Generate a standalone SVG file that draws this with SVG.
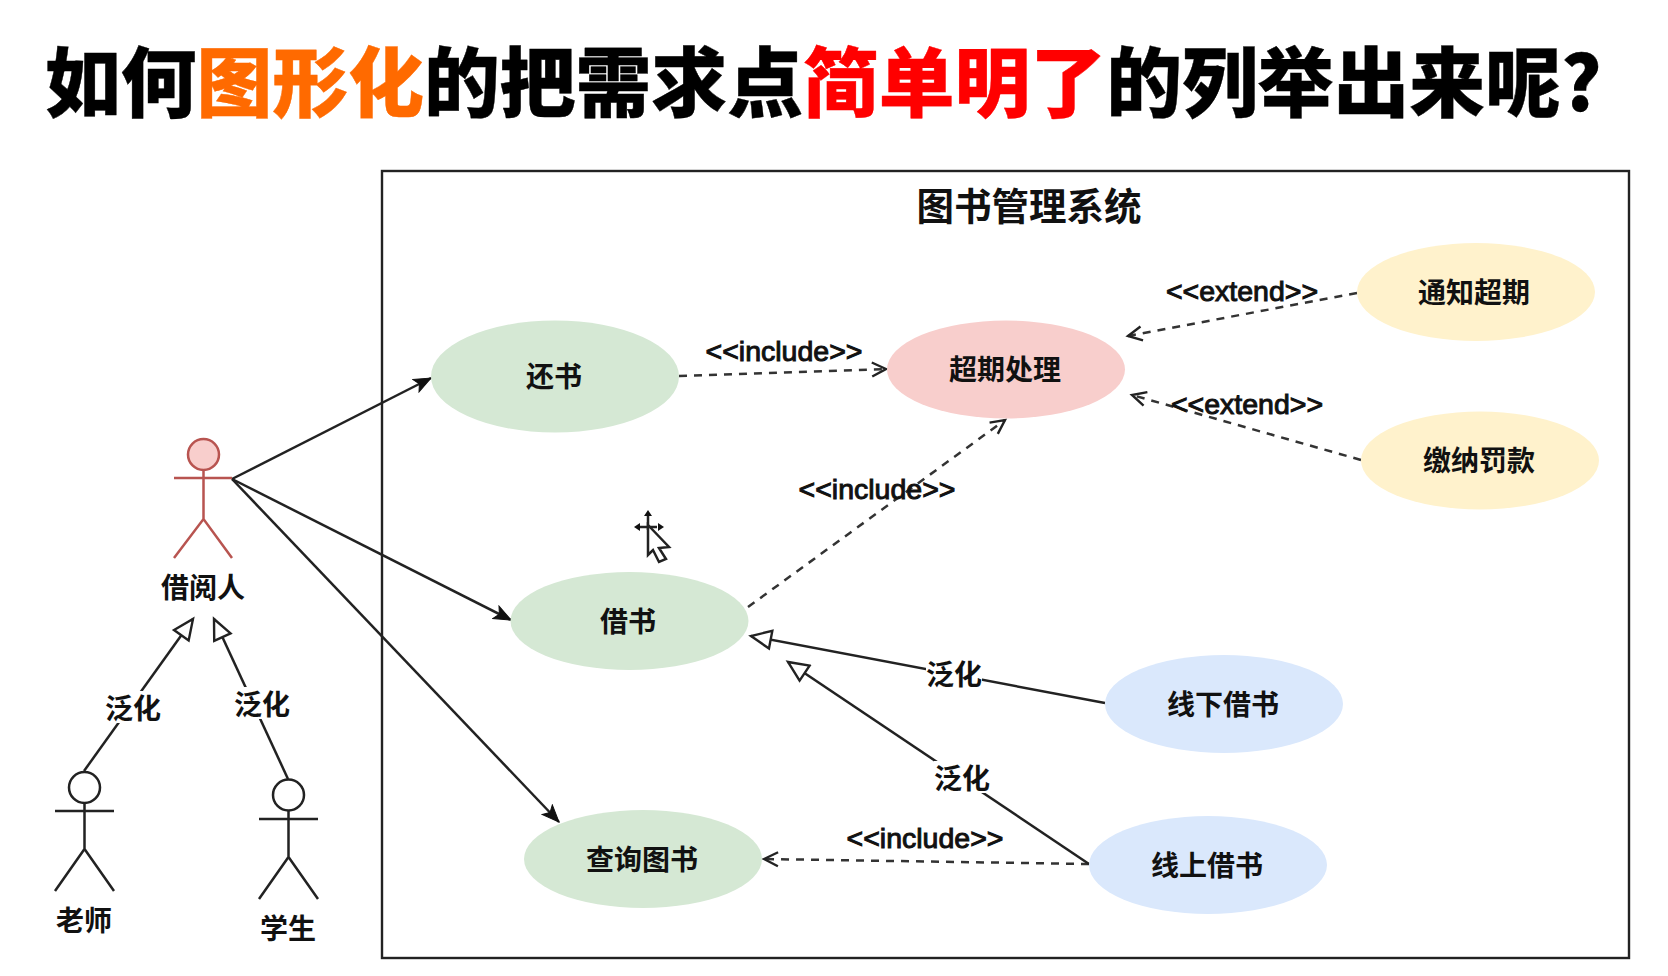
<svg xmlns="http://www.w3.org/2000/svg" width="1668" height="976" viewBox="0 0 1668 976">
<style>
text{font-family:"Noto Sans CJK SC","Liberation Sans",sans-serif;font-weight:700;fill:#111;text-anchor:middle;dominant-baseline:central}
.cn{font-size:28px}
.en{font-family:"Liberation Sans","Noto Sans CJK SC",sans-serif;font-weight:400;font-size:28.500px;stroke:#111;stroke-width:1}
.title{font-size:75.8px;font-weight:900;fill:#000;stroke:#000;stroke-width:.4;text-anchor:start;dominant-baseline:alphabetic}
.bg{fill:#fff;stroke:none}
.line{fill:none;stroke:#222;stroke-width:2.5}
.dash{fill:none;stroke:#333;stroke-width:2.5;stroke-dasharray:8 7}
.assoc{marker-end:url(#solid)}
.open{marker-end:url(#open)}
.gen{marker-end:url(#hollow)}
.actor{fill:#fff;stroke:#222;stroke-width:2.5}
.red{fill:#f8cecc;stroke:#b85450;stroke-width:2.5}
.limb{fill:none}
.green{fill:#d5e8d4}.pink{fill:#f8cecc}.yellow{fill:#fff2cc}.blue{fill:#dae8fc}
</style>
<defs>
<marker id="solid" markerUnits="userSpaceOnUse" markerWidth="20" markerHeight="16" refX="18" refY="8" orient="auto"><path d="M1 1 L18 8 L1 15 L5 8 Z" fill="#111" stroke="#111"/></marker>
<marker id="open" markerUnits="userSpaceOnUse" markerWidth="20" markerHeight="18" refX="17" refY="9" orient="auto"><path d="M3 2 L17 9 L3 16" fill="none" stroke="#222" stroke-width="2.4"/></marker>
<marker id="hollow" markerUnits="userSpaceOnUse" markerWidth="26" markerHeight="22" refX="23" refY="11" orient="auto"><path d="M3 2 L23 11 L3 20 Z" fill="#fff" stroke="#222" stroke-width="2.4"/></marker>
</defs>
<rect width="1668" height="976" fill="#fff"/>
<text class="title" x="45" y="111">如何<tspan fill="#ff6a00" stroke="#ff6a00">图形化</tspan>的把需求点<tspan fill="#ff0000" stroke="#ff0000">简单明了</tspan>的列举出来呢?</text>
<rect id="system" x="382" y="171" width="1247" height="787" fill="none" stroke="#222" stroke-width="2.4"/>
<text x="1029" y="203" style="font-size:37.5px">图书管理系统</text>
<g id="connectors">
<path class="line assoc" d="M232 479 L431 378"/>
<path class="line assoc" d="M232 479 L511 620"/>
<path class="line assoc" d="M232 479 L559 822"/>
<path class="dash open" d="M679 376 L886 369"/>
<path class="dash open" d="M748 607 L1005 420"/>
<path class="dash open" d="M1357 293 L1128 336"/>
<path class="dash open" d="M1361 460 L1132 395"/>
<path class="dash open" d="M1089 864 L764 859"/>
<path class="line gen" d="M1105 703 L751 636"/>
<path class="line gen" d="M1089 864 L788 662"/>
<path class="line gen" d="M84 771 L193 619"/>
<path class="line gen" d="M288 779 L214 619"/>
</g>
<g id="edge-labels">
<text class="en" x="784" y="351">&lt;&lt;include&gt;&gt;</text>
<text class="en" x="877" y="489">&lt;&lt;include&gt;&gt;</text>
<text class="en" x="925" y="838">&lt;&lt;include&gt;&gt;</text>
<text class="en" x="1242" y="291">&lt;&lt;extend&gt;&gt;</text>
<text class="en" x="1247" y="404">&lt;&lt;extend&gt;&gt;</text>
<rect class="bg" x="926" y="657" width="56" height="32"/><text class="cn" x="954" y="673">泛化</text>
<rect class="bg" x="934" y="761" width="56" height="32"/><text class="cn" x="962" y="777">泛化</text>
<rect class="bg" x="105" y="691" width="56" height="32"/><text class="cn" x="133" y="707">泛化</text>
<rect class="bg" x="234" y="687" width="56" height="32"/><text class="cn" x="262" y="703">泛化</text>
</g>
<g id="usecase-return"><ellipse class="green" cx="555" cy="376.500" rx="124" ry="56"/><text class="cn" x="554" y="375">还书</text></g>
<g id="usecase-overdue"><ellipse class="pink" cx="1006" cy="369.500" rx="119" ry="49"/><text class="cn" x="1005" y="368">超期处理</text></g>
<g id="usecase-notify"><ellipse class="yellow" cx="1476" cy="292" rx="119" ry="49"/><text class="cn" x="1474" y="291">通知超期</text></g>
<g id="usecase-fine"><ellipse class="yellow" cx="1480" cy="460.500" rx="119" ry="49"/><text class="cn" x="1479" y="459">缴纳罚款</text></g>
<g id="usecase-borrow"><ellipse class="green" cx="629.500" cy="621" rx="119" ry="49"/><text class="cn" x="628" y="620">借书</text></g>
<g id="usecase-offline"><ellipse class="blue" cx="1224" cy="704" rx="119" ry="49"/><text class="cn" x="1223" y="703">线下借书</text></g>
<g id="usecase-online"><ellipse class="blue" cx="1208" cy="865" rx="119" ry="49"/><text class="cn" x="1207" y="864">线上借书</text></g>
<g id="usecase-search"><ellipse class="green" cx="643" cy="859" rx="119" ry="49"/><text class="cn" x="642" y="858">查询图书</text></g>
<g id="actor-reader"><circle class="red" cx="203.500" cy="454.500" r="15.500"/><path class="red limb" d="M203.500 470 V519 M174 478 H232 M174 558 L203.500 519 L232 558"/><text class="cn" x="203" y="586">借阅人</text></g>
<g id="actor-teacher"><circle class="actor" cx="84.500" cy="787.500" r="15.500"/><path class="actor limb" d="M84.500 803 V849 M55 811 H114 M55 891 L84.500 849 L114 891"/><text class="cn" x="84" y="919">老师</text></g>
<g id="actor-student"><circle class="actor" cx="288.500" cy="795" r="15.500"/><path class="actor limb" d="M288.500 810.500 V857 M259 819 H318 M259 899 L288.500 857 L318 899"/><text class="cn" x="288" y="927">学生</text></g>
<g id="cursor"><path d="M648 514 V530 M640 527 H657" stroke="#222" stroke-width="2.500" fill="none"/><path d="M648 510 l-4 6 h8 Z M634 527 l6 -4 v8 Z M664 527 l-6 -4 v8 Z" fill="#111"/><path d="M648 525 L669 547 L659 548 L666 559 L659 562 L653 550 L648 555 Z" fill="#fff" stroke="#222" stroke-width="2.500"/></g>
</svg>
